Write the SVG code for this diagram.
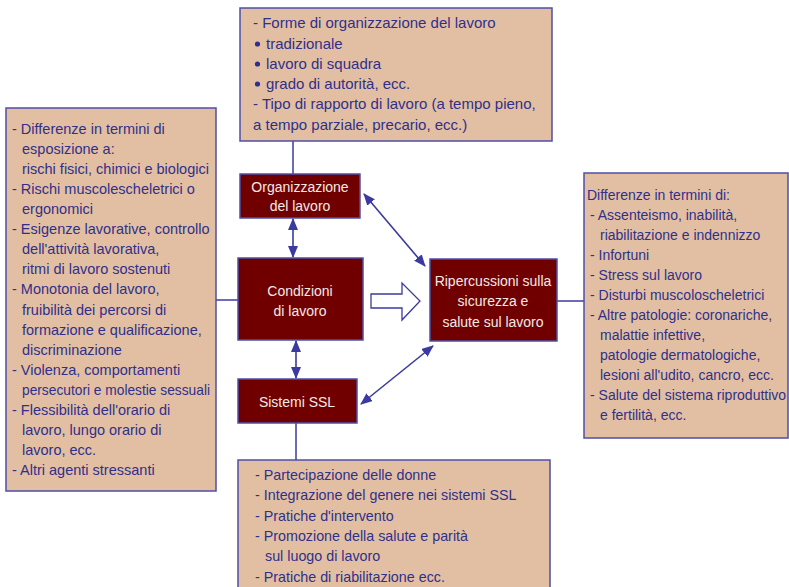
<svg xmlns="http://www.w3.org/2000/svg" width="789" height="587" viewBox="0 0 789 587">
  <style>
    .note { fill: #e2bfa3; stroke: #4f4fa6; stroke-width: 1.5; }
    .core { fill: #700000; stroke: #4f4fa6; stroke-width: 1.5; }
    .txt { font-family: "Liberation Sans", Arial, sans-serif; font-size: 14px; fill: #30308a; }
    .t15 { font-size: 15px; }
    .t145 { font-size: 14.5px; }
    .t143 { font-size: 14.3px; }
    .lbl { font-family: "Liberation Sans", Arial, sans-serif; font-size: 14px; fill: #f3e9e6; text-anchor: middle; }
    .wire { stroke: #3a3aa0; stroke-width: 1.5; fill: none; }
    .bidir { stroke: #3a3aa0; stroke-width: 1.6; fill: none; marker-start: url(#head); marker-end: url(#head); }
  </style>
  <defs>
    <marker id="head" viewBox="0 0 12 10" refX="11" refY="5" markerWidth="12" markerHeight="10" markerUnits="userSpaceOnUse" orient="auto-start-reverse">
      <path d="M0,0 L12,5 L0,10 Z" fill="#3a3aa0"/>
    </marker>
  </defs>

  <rect width="789" height="587" fill="#ffffff"/>

  <!-- connectors -->
  <g id="connectors">
    <line class="wire" x1="293" y1="141" x2="293" y2="174"/>
    <line class="wire" x1="216" y1="300" x2="238" y2="300"/>
    <line class="wire" x1="557" y1="301" x2="584" y2="301"/>
    <line class="wire" x1="296" y1="423" x2="296" y2="460"/>
    <line class="bidir" x1="293" y1="219" x2="293" y2="257"/>
    <line class="bidir" x1="296" y1="341" x2="296" y2="378"/>
    <line class="bidir" x1="364" y1="194" x2="425" y2="266"/>
    <line class="bidir" x1="433" y1="346" x2="361" y2="404"/>
    <polygon points="371,294 402,294 402,283 420,301 402,320 402,308 371,308" fill="#ffffff" stroke="#3a3aa0" stroke-width="1.3"/>
  </g>

  <!-- work organisation details -->
  <g id="organizzazione-dettagli">
    <rect class="note" x="240" y="8" width="312" height="133"/>
    <text class="txt t15" x="253" y="28">- Forme di organizzazione del lavoro</text>
    <circle cx="257.5" cy="44" r="2.6" fill="#30308a"/>
    <text class="txt t15" x="266" y="49">tradizionale</text>
    <circle cx="257.5" cy="64" r="2.6" fill="#30308a"/>
    <text class="txt t15" x="266" y="69">lavoro di squadra</text>
    <circle cx="257.5" cy="84" r="2.6" fill="#30308a"/>
    <text class="txt t15" x="266" y="89">grado di autorità, ecc.</text>
    <text class="txt t15" x="253" y="109">- Tipo di rapporto di lavoro (a tempo pieno,</text>
    <text class="txt t15" x="253" y="130">a tempo parziale, precario, ecc.)</text>
  </g>

  <!-- working conditions details -->
  <g id="condizioni-dettagli">
    <rect class="note" x="6" y="108" width="210" height="383"/>
    <text class="txt t145" x="12" y="134">- Differenze in termini di</text>
    <text class="txt t145" x="22" y="154">esposizione a:</text>
    <text class="txt t145" x="22" y="174">rischi fisici, chimici e biologici</text>
    <text class="txt t145" x="12" y="194">- Rischi muscolescheletrici o</text>
    <text class="txt t145" x="22" y="214">ergonomici</text>
    <text class="txt t145" x="12" y="234">- Esigenze lavorative, controllo</text>
    <text class="txt t145" x="22" y="254">dell'attività lavorativa,</text>
    <text class="txt t145" x="22" y="274">ritmi di lavoro sostenuti</text>
    <text class="txt t145" x="12" y="294">- Monotonia del lavoro,</text>
    <text class="txt t145" x="22" y="315">fruibilità dei percorsi di</text>
    <text class="txt t145" x="22" y="335">formazione e qualificazione,</text>
    <text class="txt t145" x="22" y="355">discriminazione</text>
    <text class="txt t145" x="12" y="375">- Violenza, comportamenti</text>
    <text class="txt t145" x="22" y="395" textLength="188" lengthAdjust="spacingAndGlyphs">persecutori e molestie sessuali</text>
    <text class="txt t145" x="12" y="415">- Flessibilità dell'orario di</text>
    <text class="txt t145" x="22" y="435">lavoro, lungo orario di</text>
    <text class="txt t145" x="22" y="455">lavoro, ecc.</text>
    <text class="txt t145" x="12" y="475">- Altri agenti stressanti</text>
  </g>

  <!-- outcomes details -->
  <g id="ripercussioni-dettagli">
    <rect class="note" x="584" y="173" width="204" height="265"/>
    <text class="txt" x="587" y="200">Differenze in termini di:</text>
    <text class="txt" x="590" y="220">- Assenteismo, inabilità,</text>
    <text class="txt" x="600" y="240">riabilitazione e indennizzo</text>
    <text class="txt" x="590" y="260">- Infortuni</text>
    <text class="txt" x="590" y="280">- Stress sul lavoro</text>
    <text class="txt" x="590" y="300">- Disturbi muscoloscheletrici</text>
    <text class="txt" x="590" y="320">- Altre patologie: coronariche,</text>
    <text class="txt" x="600" y="340">malattie infettive,</text>
    <text class="txt" x="600" y="360">patologie dermatologiche,</text>
    <text class="txt" x="600" y="380">lesioni all'udito, cancro, ecc.</text>
    <text class="txt" x="590" y="400">- Salute del sistema riproduttivo</text>
    <text class="txt" x="600" y="420">e fertilità, ecc.</text>
  </g>

  <!-- OSH systems details -->
  <g id="ssl-dettagli">
    <rect class="note" x="238" y="460" width="312" height="140"/>
    <text class="txt t143" x="255" y="480">- Partecipazione delle donne</text>
    <text class="txt t143" x="255" y="500">- Integrazione del genere nei sistemi SSL</text>
    <text class="txt t143" x="255" y="521">- Pratiche d'intervento</text>
    <text class="txt t143" x="255" y="541">- Promozione della salute e parità</text>
    <text class="txt t143" x="265" y="561">sul luogo di lavoro</text>
    <text class="txt t143" x="255" y="582">- Pratiche di riabilitazione ecc.</text>
  </g>

  <g id="organizzazione">
    <rect class="core" x="240" y="174" width="120" height="44"/>
    <text class="lbl" x="300" y="192">Organizzazione</text>
    <text class="lbl" x="300" y="211">del lavoro</text>
  </g>

  <g id="condizioni">
    <rect class="core" x="238" y="258" width="125" height="82"/>
    <text class="lbl" x="300" y="296">Condizioni</text>
    <text class="lbl" x="300" y="316">di lavoro</text>
  </g>

  <g id="ripercussioni">
    <rect class="core" x="430" y="259" width="127" height="82"/>
    <text class="lbl" x="493" y="286">Ripercussioni sulla</text>
    <text class="lbl" x="493" y="306">sicurezza e</text>
    <text class="lbl" x="493" y="327">salute sul lavoro</text>
  </g>

  <g id="sistemi-ssl">
    <rect class="core" x="238" y="379" width="119" height="44"/>
    <text class="lbl" x="297" y="407">Sistemi SSL</text>
  </g>
</svg>
